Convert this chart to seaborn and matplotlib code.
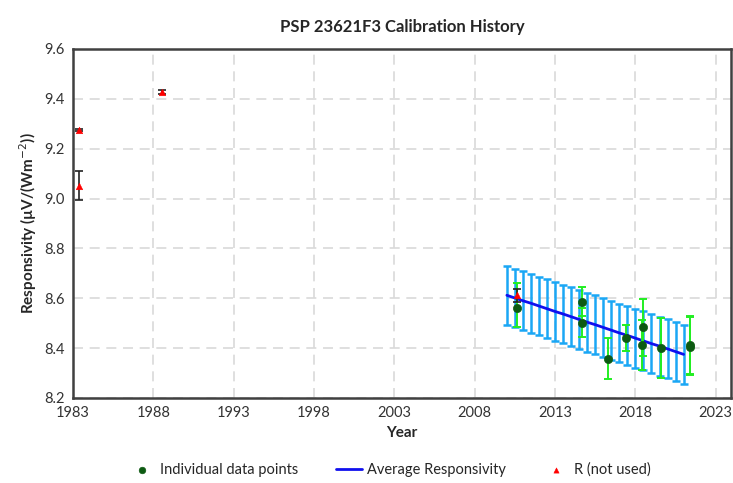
import numpy as np
import pandas as pd
import matplotlib.pyplot as plt
import seaborn as sns

# Individual calibration points (used)
pt_year = [2010.6, 2014.7, 2014.7, 2016.3, 2017.4, 2018.4, 2018.5, 2019.6, 2021.4, 2021.4]
pt_resp = [8.559, 8.585, 8.501, 8.356, 8.439, 8.412, 8.483, 8.399, 8.412, 8.403]
pt_err_lo = [0.074, 0.055, 0.058, 0.080, 0.052, 0.100, 0.116, 0.120, 0.117, 0.112]
pt_err_hi = [0.104, 0.060, 0.058, 0.083, 0.052, 0.100, 0.116, 0.120, 0.115, 0.120]

# Average responsivity line with its uncertainty
avg_year = [2010.0, 2010.5, 2011.0, 2011.5, 2012.0, 2012.5, 2013.0, 2013.5, 2014.0,
            2014.5, 2015.0, 2015.5, 2016.0, 2016.5, 2017.0, 2017.5, 2018.0, 2018.5,
            2019.0, 2019.5, 2020.0, 2020.5, 2021.0]
avg_resp = [8.612, 8.601, 8.590, 8.580, 8.569, 8.558, 8.547, 8.537, 8.526, 8.515,
            8.504, 8.494, 8.483, 8.472, 8.461, 8.451, 8.440, 8.429, 8.418, 8.408,
            8.397, 8.386, 8.375]
avg_err = 0.118

# Points not used (R)
r_year = [1983.4, 1983.4, 1988.55, 2010.6]
r_resp = [9.275, 9.052, 9.429, 8.612]
r_err = [0.006, 0.058, 0.008, 0.025]

df_pts = pd.DataFrame({"Year": pt_year, "Resp": pt_resp})
df_avg = pd.DataFrame({"Year": avg_year, "Resp": avg_resp})
df_r = pd.DataFrame({"Year": r_year, "Resp": r_resp})

sns.set_style("white")
plt.rcParams["font.family"] = ["Lato", "DejaVu Sans"]

fig = plt.figure(figsize=(7.33, 4.83), dpi=100)
ax = fig.add_axes([0.0996, 0.176, 0.8977, 0.7226])

# uncertainty band as error bars
ax.errorbar(avg_year, avg_resp, yerr=avg_err, fmt="none", ecolor="#1aa7f5",
            elinewidth=1.8, capsize=2.8, capthick=1.8, zorder=2)
sns.lineplot(data=df_avg, x="Year", y="Resp", color="#1010ee", linewidth=2,
             ax=ax, zorder=3, label="Average Responsivity")

ax.errorbar(pt_year, pt_resp, yerr=[pt_err_lo, pt_err_hi], fmt="none",
            ecolor="#22ee22", elinewidth=1.4, capsize=3, capthick=1.4, zorder=4)
sns.scatterplot(data=df_pts, x="Year", y="Resp", color="#0d5a12", s=35,
                edgecolor="#0d5a12", ax=ax, zorder=5, label="Individual data points")

ax.errorbar(r_year, r_resp, yerr=r_err, fmt="none", ecolor="#222222",
            elinewidth=1.2, capsize=3, capthick=1.2, zorder=6)
sns.scatterplot(data=df_r, x="Year", y="Resp", color="red", marker="^", s=22,
                edgecolor="red", ax=ax, zorder=7, label="R (not used)")

ax.set_xlim(1983, 2023.95)
ax.set_ylim(8.2, 9.6)
ax.set_xticks(np.arange(1983, 2024, 5))
ax.set_yticks(np.arange(8.2, 9.61, 0.2))
ax.yaxis.set_major_formatter(plt.FormatStrFormatter("%.1f"))
ax.grid(True, color="#d9d9d9", linestyle=(0, (6, 4)), linewidth=1.2)
ax.set_axisbelow(True)
for s in ax.spines.values():
    s.set_color("#404040")
    s.set_linewidth(1.8)
ax.tick_params(labelsize=10.5, colors="#333333", length=0, pad=6)

ax.set_xlabel("Year", fontsize=11, fontweight="bold")
ax.set_ylabel("Responsivity (µV/(Wm$^{-2}$))", fontsize=11, fontweight="bold")
ax.set_title("PSP 23621F3 Calibration History", fontsize=12, fontweight="bold", pad=12)

handles, labels = ax.get_legend_handles_labels()
order = [labels.index(l) for l in ["Individual data points", "Average Responsivity", "R (not used)"]]
ax.legend([handles[i] for i in order], [labels[i] for i in order],
          loc="center", bbox_to_anchor=(0.532, 0.028), bbox_transform=fig.transFigure,
          ncol=3, frameon=False, fontsize=10.5, columnspacing=2.6, handlelength=1.8,
          handletextpad=0.3, markerscale=0.8)

plt.savefig("out.png", dpi=100)
